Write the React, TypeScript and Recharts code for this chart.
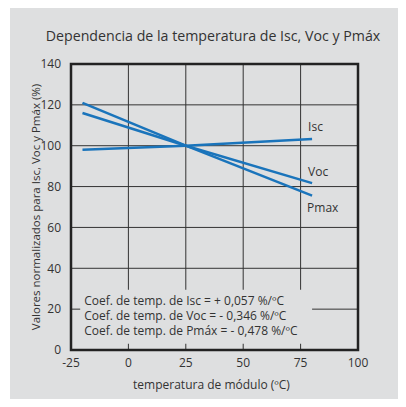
import React from "react"
import {
  LineChart,
  Line,
  XAxis,
  YAxis,
  CartesianGrid,
  ReferenceArea,
  Label,
} from "recharts"

// temperatures (ºC) where the lines are sampled
const temps = [-20, 25, 80]
// normalised values (%)
const isc = [98, 100, 103.3]
const voc = [116, 100, 81.7]
const pmax = [121, 100, 75.6]

const xTicks = [-25, 0, 25, 50, 75, 100]
const yTicks = [0, 20, 40, 60, 80, 100, 120, 140]

const coefLines = [
  "Coef. de temp. de Isc = + 0,057 %/ºC",
  "Coef. de temp. de Voc = - 0,346 %/ºC",
  "Coef. de temp. de Pmáx = - 0,478 %/ºC",
]

const data = temps.map((t, i) => ({ t, isc: isc[i], voc: voc[i], pmax: pmax[i] }))

const BG = "#dedfe0"
const INK = "#333333"
const BLUE = "#1a74bb"
const FONT = "'Open Sans', sans-serif"

// label drawn next to the last point of a series
const endLabel = (text: string, dx: number, dy: number) => (props: any) => {
  if (props.index !== temps.length - 1) return <g />
  return (
    <text x={props.x + dx} y={props.y + dy} fill={INK} fontSize={12} fontFamily={FONT}>
      {text}
    </text>
  )
}

const CoefBox = (props: any) => {
  const { x, y } = props.viewBox
  return (
    <g>
      {coefLines.map((l, i) => (
        <text key={i} x={x + 4} y={y + 15 + i * 15} fill={INK} fontSize={12} fontFamily={FONT}>
          {l}
        </text>
      ))}
    </g>
  )
}

export default function App() {
  return (
    <div style={{ margin: -8, width: 406, height: 407, background: "#fff", position: "relative" }}>
      <div style={{ position: "absolute", left: 10, top: 3, right: 0, bottom: 0, background: BG }} />
      <div
        style={{
          position: "absolute",
          left: 0,
          width: 426,
          top: 26,
          textAlign: "center",
          fontFamily: FONT,
          fontSize: 14.2,
          color: INK,
        }}
      >
        Dependencia de la temperatura de Isc, Voc y Pmáx
      </div>
      <div style={{ position: "absolute", left: 0, top: 0 }}>
        <LineChart width={406} height={407} data={data} margin={{ top: 64, right: 48, bottom: 27, left: 31 }}>
          <CartesianGrid stroke="#333" strokeWidth={1} horizontalValues={yTicks} verticalValues={xTicks} />
          <XAxis
            dataKey="t"
            type="number"
            domain={[-25, 100]}
            ticks={xTicks}
            axisLine={false}
            tickLine={false}
            height={30}
            tick={{ fill: INK, fontSize: 12, fontFamily: FONT }}
            tickMargin={2}
          >
            <Label value="temperatura de módulo (ºC)" position="insideBottom" offset={-9} dx={-3} fill={INK} fontSize={12} fontFamily={FONT} />
          </XAxis>
          <YAxis
            type="number"
            domain={[0, 140]}
            ticks={yTicks}
            axisLine={false}
            tickLine={false}
            width={40}
            tick={{ fill: INK, fontSize: 12, fontFamily: FONT }}
            tickMargin={4}
          >
            <Label
              value="Valores normalizados para Isc, Voc y Pmáx (%)"
              angle={-90}
              position="insideLeft"
              dx={0}
              dy={0}
              style={{ textAnchor: "middle" }}
              fill={INK}
              fontSize={11.5}
              fontFamily={FONT}
            />
          </YAxis>
          <ReferenceArea x1={-21} x2={80} y1={3} y2={29.5} fill={BG} fillOpacity={1} stroke="none" label={CoefBox} />
          <ReferenceArea x1={-25} x2={100} y1={0} y2={140} fill="none" stroke="#222" strokeWidth={2.5} />
          <Line dataKey="isc" stroke={BLUE} strokeWidth={2.5} dot={false} isAnimationActive={false} label={endLabel("Isc", -4, -8)} />
          <Line dataKey="voc" stroke={BLUE} strokeWidth={2.5} dot={false} isAnimationActive={false} label={endLabel("Voc", -4, -7)} />
          <Line dataKey="pmax" stroke={BLUE} strokeWidth={2.5} dot={false} isAnimationActive={false} label={endLabel("Pmax", -5, 16)} />
        </LineChart>
      </div>
    </div>
  )
}
